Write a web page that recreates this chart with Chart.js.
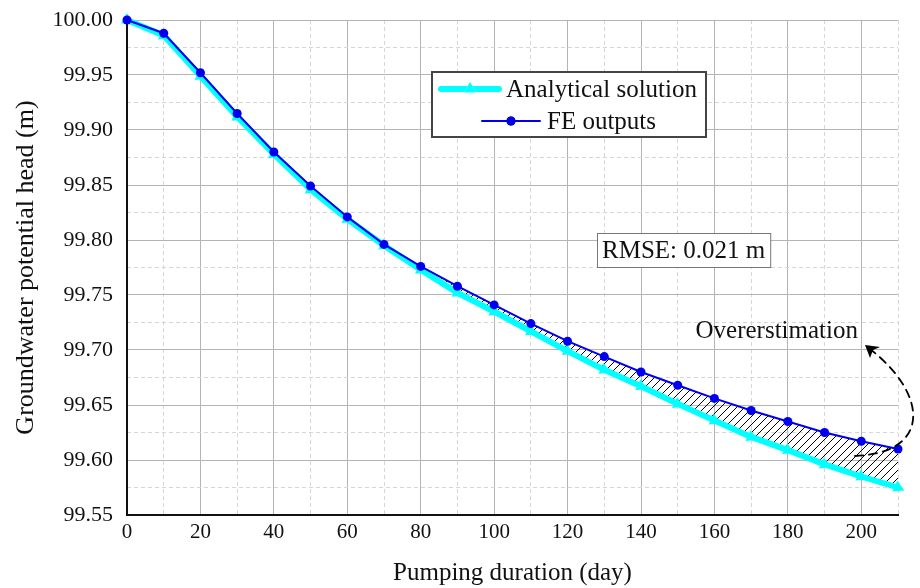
<!DOCTYPE html>
<html>
<head>
<meta charset="utf-8">
<script src="https://cdn.jsdelivr.net/npm/chart.js@4.4.1/dist/chart.umd.min.js"></script>
<style>
  html, body { margin: 0; padding: 0; background: #fff; }
</style>
</head>
<body>
<canvas id="head_chart" width="920" height="588"></canvas>
<script>
// pumping days and heads (m)
const days = [0, 10, 20, 30, 40, 50, 60, 70, 80, 90, 100, 110, 120, 130, 140, 150, 160, 170, 180, 190, 200, 210];
const analytical = [100.000, 99.986, 99.949, 99.912, 99.878, 99.846, 99.819, 99.795, 99.773, 99.752, 99.735, 99.717, 99.699, 99.682, 99.667, 99.651, 99.636, 99.621, 99.609, 99.596, 99.585, 99.575];
const feOutputs = [100.000, 99.988, 99.952, 99.915, 99.880, 99.849, 99.821, 99.796, 99.776, 99.758, 99.741, 99.724, 99.708, 99.694, 99.680, 99.668, 99.656, 99.645, 99.635, 99.625, 99.617, 99.610];
const xTicks = [0, 20, 40, 60, 80, 100, 120, 140, 160, 180, 200];
const hatchFromDay = 80;
const rmseText = 'RMSE: 0.021 m';

const serif = '"Liberation Serif", "Times New Roman", serif';
Chart.defaults.font.family = serif;
Chart.defaults.color = '#111';

const pts = arr => days.map((d, i) => ({ x: d, y: arr[i] }));
const hatchPts = days.map((d, i) => ({ x: d, y: d >= hatchFromDay ? feOutputs[i] : null }));

// diagonal hatch for the overestimation band
function hatchPattern() {
    const c = document.createElement('canvas');
    c.width = 8; c.height = 8;
    const g = c.getContext('2d');
    g.strokeStyle = '#000';
    g.lineWidth = 1;
    g.beginPath();
    g.moveTo(-2, 10); g.lineTo(10, -2);
    g.stroke();
    return g.createPattern(c, 'repeat');
}

const isMajor = (v, step) => Math.abs(Math.round(v / step) * step - v) < 1e-6;

const decor = {
    id: 'decor',
    afterDraw(chart) {
        const ctx = chart.ctx;
        const a = chart.chartArea;
        const xs = chart.scales.x, ys = chart.scales.y;
        ctx.save();

        // legend box
        const lx = a.left + 305, ly = a.top + 52, lw = 274, lh = 65;
        ctx.fillStyle = '#fff';
        ctx.fillRect(lx, ly, lw, lh);
        ctx.strokeStyle = '#444';
        ctx.lineWidth = 2;
        ctx.strokeRect(lx, ly, lw, lh);
        ctx.font = '25px ' + serif;
        ctx.textBaseline = 'middle';
        const rows = [chart.data.datasets[1], chart.data.datasets[0]];
        rows.forEach((ds, k) => {
            const y = ly + 17 + k * 32;
            const tw = ctx.measureText(ds.label).width;
            const total = 58 + 7 + tw;
            const x0 = lx + (lw - total) / 2;
            ctx.strokeStyle = ds.borderColor;
            ctx.lineWidth = ds.borderWidth;
            ctx.lineCap = 'round';
            ctx.beginPath(); ctx.moveTo(x0, y); ctx.lineTo(x0 + 58, y); ctx.stroke();
            Chart.helpers.drawPoint(ctx, {
                pointStyle: ds.pointStyle, radius: ds.pointRadius, rotation: 0,
                borderWidth: 0
            }, x0 + 29, y);
            ctx.fillStyle = ds.pointBackgroundColor;
            ctx.fill();
            ctx.fillStyle = '#111';
            ctx.textAlign = 'left';
            ctx.fillText(ds.label, x0 + 65, y + 1);
        });

        // RMSE box
        ctx.font = '25px ' + serif;
        const rw = ctx.measureText(rmseText).width + 10;
        const rx = a.left + 470, ry = a.top + 213;
        ctx.fillStyle = '#fff';
        ctx.fillRect(rx, ry, rw, 34);
        ctx.strokeStyle = '#777';
        ctx.lineWidth = 1;
        ctx.strokeRect(rx + 0.5, ry + 0.5, rw, 34);
        ctx.fillStyle = '#111';
        ctx.textAlign = 'left';
        ctx.fillText(rmseText, rx + 5, ry + 18);

        // overestimation note and dashed arrow, anchored at the last FE point
        const n = days.length - 1;
        const px = xs.getPixelForValue(days[n]);
        const py = ys.getPixelForValue(feOutputs[n]);
        ctx.textAlign = 'right';
        ctx.fillText('Overerstimation', px - 40, py - 118);
        ctx.strokeStyle = '#000';
        ctx.lineWidth = 1.8;
        ctx.setLineDash([8, 6]);
        ctx.beginPath();
        ctx.moveTo(px - 43, py + 7);
        ctx.bezierCurveTo(px + 34, py + 4, px + 30, py - 55, px - 28, py - 100);
        ctx.stroke();
        ctx.setLineDash([]);
        const tx = px - 33, ty = py - 104;
        ctx.fillStyle = '#000';
        ctx.beginPath();
        ctx.moveTo(tx, ty);
        ctx.lineTo(tx + 15, ty + 2);
        ctx.lineTo(tx + 8, ty + 5);
        ctx.lineTo(tx + 5, ty + 13);
        ctx.closePath();
        ctx.fill();
        ctx.restore();
    }
};

new Chart(document.getElementById('head_chart'), {
    type: 'line',
    data: {
        datasets: [{
            label: 'FE outputs',
            data: pts(feOutputs),
            borderColor: '#0000ee',
            backgroundColor: '#0000ee',
            pointBackgroundColor: '#0000ee',
            borderWidth: 2,
            pointStyle: 'circle',
            pointRadius: 4.5,
            pointBorderWidth: 0,
            fill: false,
            clip: false,
            order: 1
        }, {
            label: 'Analytical solution',
            data: pts(analytical),
            borderColor: '#00ffff',
            backgroundColor: '#00ffff',
            pointBackgroundColor: '#00ffff',
            borderWidth: 6,
            pointStyle: 'triangle',
            pointRadius: 7,
            pointBorderWidth: 0,
            pointRotation: ctx => ctx.dataIndex === 0 ? 0 : 115,
            fill: false,
            clip: false,
            order: 2
        }, {
            label: 'Overestimation',
            data: hatchPts,
            borderWidth: 0,
            pointRadius: 0,
            backgroundColor: hatchPattern(),
            fill: { target: 1 },
            order: 3
        }]
    },
    options: {
        responsive: false,
        animation: false,
        layout: { padding: { top: 20, right: 22, left: 0, bottom: 0 } },
        plugins: {
            legend: { display: false },
            tooltip: { enabled: false }
        },
        scales: {
            x: {
                type: 'linear',
                min: 0,
                max: 210,
                ticks: { padding: 5, font: { size: 21 }, color: '#111' },
                afterBuildTicks: s => { s.ticks = xTicks.map(v => ({ value: v })); },
                grid: { color: '#b4b4b4', lineWidth: 1, drawTicks: false },
                border: { color: '#111', width: 2 },
                title: { display: true, text: 'Pumping duration (day)', font: { size: 25 }, padding: { top: 3, bottom: 0 }, color: '#111' },
                afterFit: s => { s.height = 73; s.paddingLeft = 0; s.paddingRight = 0; }
            },
            xMinor: {
                type: 'linear',
                position: 'bottom',
                min: 0,
                max: 210,
                ticks: { stepSize: 10, display: false },
                grid: {
                    color: ctx => isMajor(ctx.tick.value, 20) ? 'rgba(0,0,0,0)' : '#d6d6d6',
                    drawTicks: false
                },
                border: { display: false, dash: [4, 3] },
                afterFit: s => { s.height = 0; s.paddingLeft = 0; s.paddingRight = 0; }
            },
            y: {
                type: 'linear',
                min: 99.55,
                max: 100,
                ticks: {
                    stepSize: 0.05, padding: 14, font: { size: 22 }, color: '#111',
                    callback: v => v.toFixed(2)
                },
                grid: { color: '#b4b4b4', lineWidth: 1, drawTicks: false },
                border: { color: '#111', width: 2 },
                title: { display: true, text: 'Groundwater potential head (m)', font: { size: 26 }, padding: { top: 11, bottom: 0 }, color: '#111' },
                afterFit: s => { s.width = 127; s.paddingTop = 0; s.paddingBottom = 0; }
            },
            yMinor: {
                type: 'linear',
                position: 'left',
                min: 99.55,
                max: 100,
                ticks: { stepSize: 0.025, display: false },
                grid: {
                    color: ctx => isMajor(ctx.tick.value, 0.05) ? 'rgba(0,0,0,0)' : '#d6d6d6',
                    drawTicks: false
                },
                border: { display: false, dash: [4, 3] },
                afterFit: s => { s.width = 0; s.paddingTop = 0; s.paddingBottom = 0; }
            }
        }
    },
    plugins: [decor]
});
</script>
</body>
</html>
